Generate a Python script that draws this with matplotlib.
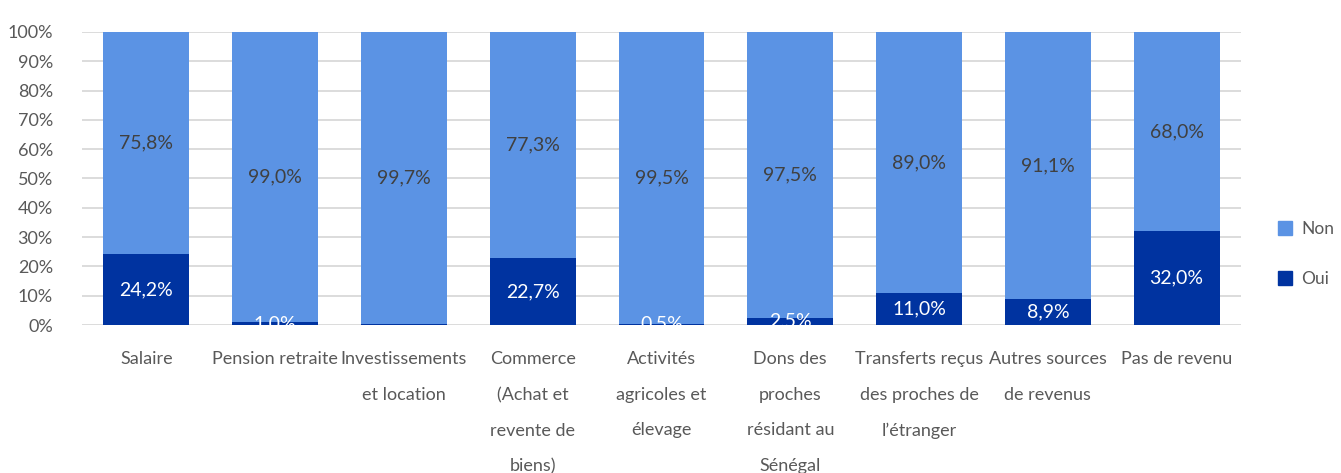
import matplotlib
matplotlib.use("Agg")
import matplotlib.pyplot as plt
from matplotlib.patches import Patch

categories = ["Salaire", "Pension retraite", "Investissements\net location",
              "Commerce\n(Achat et\nrevente de\nbiens)", "Activités\nagricoles et\nélevage",
              "Dons des\nproches\nrésidant au\nSénégal", "Transferts reçus\ndes proches de\nl\u2019étranger",
              "Autres sources\nde revenus", "Pas de revenu"]
oui = [24.2, 1.0, 0.3, 22.7, 0.5, 2.5, 11.0, 8.9, 32.0]
non = [75.8, 99.0, 99.7, 77.3, 99.5, 97.5, 89.0, 91.1, 68.0]
show_oui_label = [True, True, False, True, True, True, True, True, True]
yticks = [0, 10, 20, 30, 40, 50, 60, 70, 80, 90, 100]

c_non = "#5B93E4"
c_oui = "#0033A0"
txt = "#595959"

plt.rcParams['font.family'] = ['Lato', 'DejaVu Sans']

fig = plt.figure(figsize=(13.41, 4.73), dpi=100)
ax = fig.add_axes([82/1341, 1-325/473, (1241-82)/1341, (325-32)/473])

x = list(range(len(categories)))
ax.bar(x, oui, width=0.667, color=c_oui, zorder=3)
ax.bar(x, non, bottom=oui, width=0.667, color=c_non, zorder=3)

def fmt(v):
    return f"{v:.1f}%".replace(".", ",")

for i in x:
    ax.text(i, oui[i] + non[i] / 2, fmt(non[i]), ha="center", va="center",
            color="#404040", fontsize=14, zorder=4)
    if show_oui_label[i]:
        ax.text(i, oui[i] / 2, fmt(oui[i]), ha="center", va="center",
                color="white", fontsize=14, zorder=4)

ax.set_xlim(-0.5, len(categories) - 0.5)
ax.set_ylim(0, 100)
ax.set_yticks(yticks)
ax.set_yticklabels([f"{t}%" for t in yticks])
ax.yaxis.grid(True, color="#d9d9d9", linewidth=1.3, zorder=0)
ax.set_axisbelow(True)
for s in ax.spines.values():
    s.set_visible(False)
ax.tick_params(axis="both", length=0, colors=txt, labelsize=13)
ax.tick_params(axis="y", pad=21)
ax.set_xticks(x)
ax.set_xticklabels(categories, linespacing=2.5, va="top")
ax.tick_params(axis="x", pad=19)

handles = [Patch(color=c_non, label="Non"), Patch(color=c_oui, label="Oui")]
leg = fig.legend(handles=handles, loc="center left", bbox_to_anchor=(1262/1341, 1-254/473),
                 frameon=False, labelspacing=2.0, handlelength=0.85, handleheight=0.85,
                 handletextpad=0.5, fontsize=12.5)
for t in leg.get_texts():
    t.set_color(txt)

fig.savefig("out.png", dpi=100)
